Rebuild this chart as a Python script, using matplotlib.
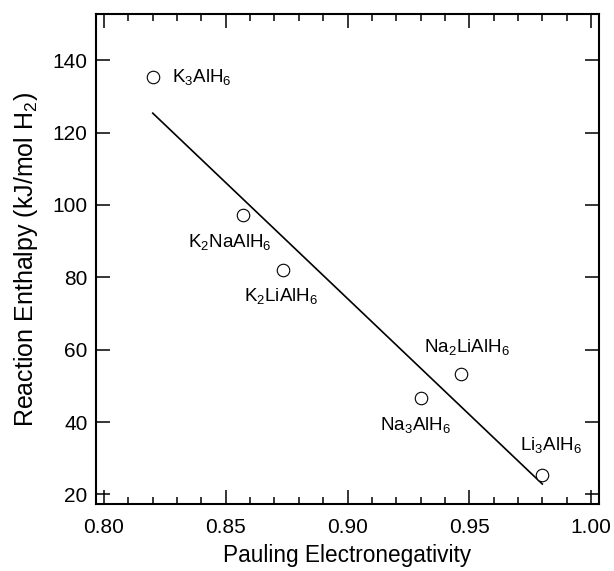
import numpy as np
import matplotlib
matplotlib.use('Agg')
import matplotlib.pyplot as plt
from matplotlib.ticker import MultipleLocator

plt.rcParams['font.family'] = 'Liberation Sans'
plt.rcParams['mathtext.fontset'] = 'custom'
plt.rcParams['mathtext.rm'] = 'Liberation Sans'

# data
compounds = ['K$_3$AlH$_6$', 'K$_2$NaAlH$_6$', 'K$_2$LiAlH$_6$',
             'Na$_3$AlH$_6$', 'Na$_2$LiAlH$_6$', 'Li$_3$AlH$_6$']
electroneg = [0.820, 0.857, 0.8735, 0.930, 0.9466, 0.980]
enthalpy = [135.4, 97.3, 82.1, 46.7, 53.3, 25.4]

# label offsets (points) from each marker
label_offsets = [(13.5, -0.5), (-9.5, -20), (-1.5, -19.5),
                 (-3.5, -20), (4.5, 19), (6.5, 21)]
label_align = ['left', 'center', 'center', 'center', 'center', 'center']

fig = plt.figure(figsize=(6.14, 5.71), dpi=100)
ax = fig.add_axes([0.156, 0.117, 0.8196, 0.858])

# linear fit through the points
slope, icpt = np.polyfit(electroneg, enthalpy, 1)
fit_x = np.array([min(electroneg), max(electroneg)])
ax.plot(fit_x, slope * fit_x + icpt, color='black', linewidth=1.2)

ax.plot(electroneg, enthalpy, linestyle='none', marker='o',
        markersize=9, markerfacecolor='white', markeredgecolor='black',
        markeredgewidth=0.8)

for name, xv, yv, off, ha in zip(compounds, electroneg, enthalpy,
                                 label_offsets, label_align):
    ax.annotate(name, (xv, yv), xytext=off, textcoords='offset points',
                ha=ha, va='center', fontsize=13.5)

ax.set_xlim(0.7966, 1.0033)
ax.set_ylim(17.3, 152.7)
ax.xaxis.set_minor_locator(MultipleLocator(0.01))
ax.set_xticks([0.80, 0.85, 0.90, 0.95, 1.00])
ax.set_xticklabels(['0.80', '0.85', '0.90', '0.95', '1.00'])
ax.set_yticks([20, 40, 60, 80, 100, 120, 140])

ax.tick_params(which='both', direction='in', top=True, right=True,
               width=1.1, labelsize=15)
ax.tick_params(which='major', length=10)
ax.tick_params(which='minor', length=5)
ax.tick_params(axis='x', pad=10)
ax.tick_params(axis='y', pad=6)

for sp in ax.spines.values():
    sp.set_linewidth(1.5)

ax.set_xlabel('Pauling Electronegativity', fontsize=16.3, labelpad=5)
ax.set_ylabel('Reaction Enthalpy (kJ/mol H$_2$)', fontsize=18, labelpad=9)

plt.savefig('out.png', dpi=100)
